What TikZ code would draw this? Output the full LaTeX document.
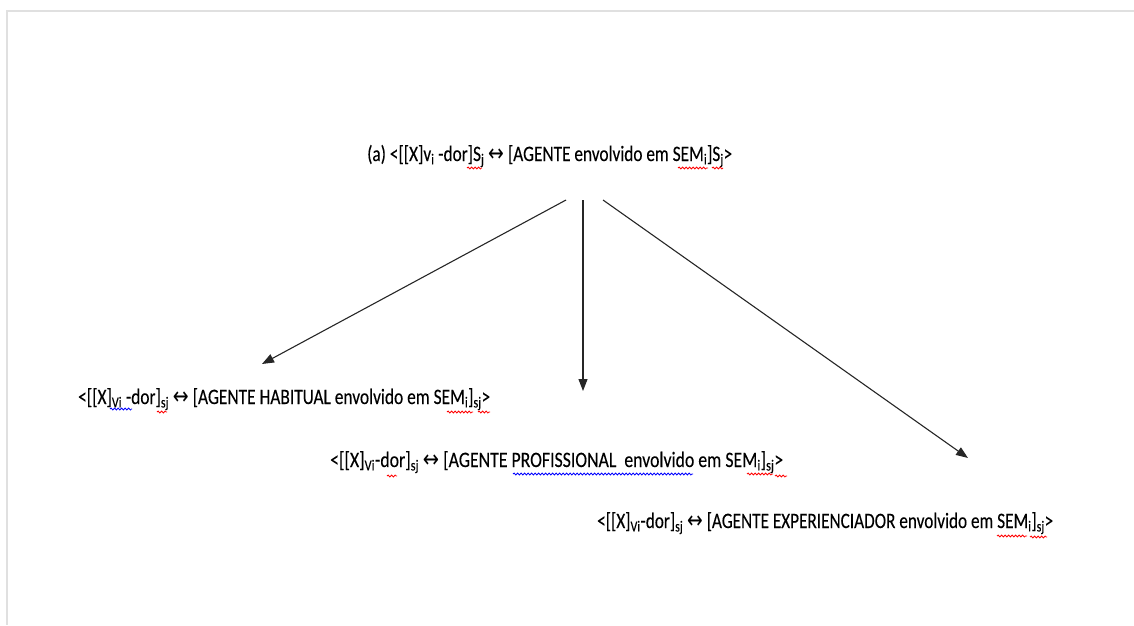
\documentclass[tikz,border=0pt]{standalone}
\usepackage{fontspec}
\usepackage{graphicx}
\setmainfont{Carlito}[FakeBold=0.2]
\newfontfamily\simbolo{DejaVu Sans}
\usetikzlibrary{arrows.meta,decorations.pathmorphing}
\newcommand{\dupla}{{\simbolo\fontsize{24}{26}\selectfont ↔}}
\newcommand{\ajusta}[2]{\resizebox{#1pt}{\height}{#2}}

\begin{document}
\begin{tikzpicture}[x=1pt,y=-1pt,
		rotulo/.style={inner sep=0pt,anchor=base west,font=\fontsize{22}{26}\selectfont},
		seta/.style={-{Triangle[length=12pt,width=9pt]},line width=1.1pt,black!85},
		onda/.style={decorate,decoration={snake,segment length=3.5pt,amplitude=1pt},line width=0.8pt},
		onda/.default=red]
		\useasboundingbox (0,0) rectangle (1134,625);
		%Moldura
		\draw[black!12,line width=2pt] (7,625) -- (7,11) -- (1134,11);

		%Nodos
		\node [rotulo] (nodo0) at (367,161) {\ajusta{365}{(a) <[[X]v\textsubscript{i} -dor]S\textsubscript{j} \dupla{} [AGENTE envolvido em SEM\textsubscript{i}]S\textsubscript{j}>}};
		\node [rotulo] (nodo1) at (78,404) {\ajusta{412}{<[[X]\textsubscript{Vi} -dor]\textsubscript{sj} \dupla{} [AGENTE HABITUAL envolvido em SEM\textsubscript{i}]\textsubscript{sj}>}};
		\node [rotulo] (nodo2) at (330,467) {\ajusta{453}{<[[X]\textsubscript{Vi}-dor]\textsubscript{sj} \dupla{} [AGENTE PROFISSIONAL\ \ envolvido em SEM\textsubscript{i}]\textsubscript{sj}>}};
		\node [rotulo] (nodo3) at (597,528) {\ajusta{456}{<[[X]\textsubscript{Vi}-dor]\textsubscript{sj} \dupla{} [AGENTE EXPERIENCIADOR envolvido em SEM\textsubscript{i}]\textsubscript{sj}>}};

		\coordinate (saida1) at (566,200);
		\coordinate (saida2) at (583,200);
		\coordinate (saida3) at (603,200);
		\coordinate (chegada1) at (262,364);
		\coordinate (chegada2) at (583,391);
		\coordinate (chegada3) at (968,458);

		%Arcos
		\draw[seta] (saida1)--(chegada1);
		\draw[seta] (saida2)--(chegada2);
		\draw[seta] (saida3)--(chegada3);

		%Sublinhados
		\foreach \xa/\xb/\ya/\cor in {467/482/168/red, 678/708/168/red, 712/723/168/red,
				110/132/409/blue, 157/167/412/red, 447/473/412/red, 478/490/412/red,
				387/397/476/red, 513/693/474/blue, 747/773/474/red, 775/787/476/red,
				997/1027/536/red, 1030/1047/537/red}
			\draw[onda,\cor] (\xa,\ya) -- (\xb,\ya);
\end{tikzpicture}
\end{document}
